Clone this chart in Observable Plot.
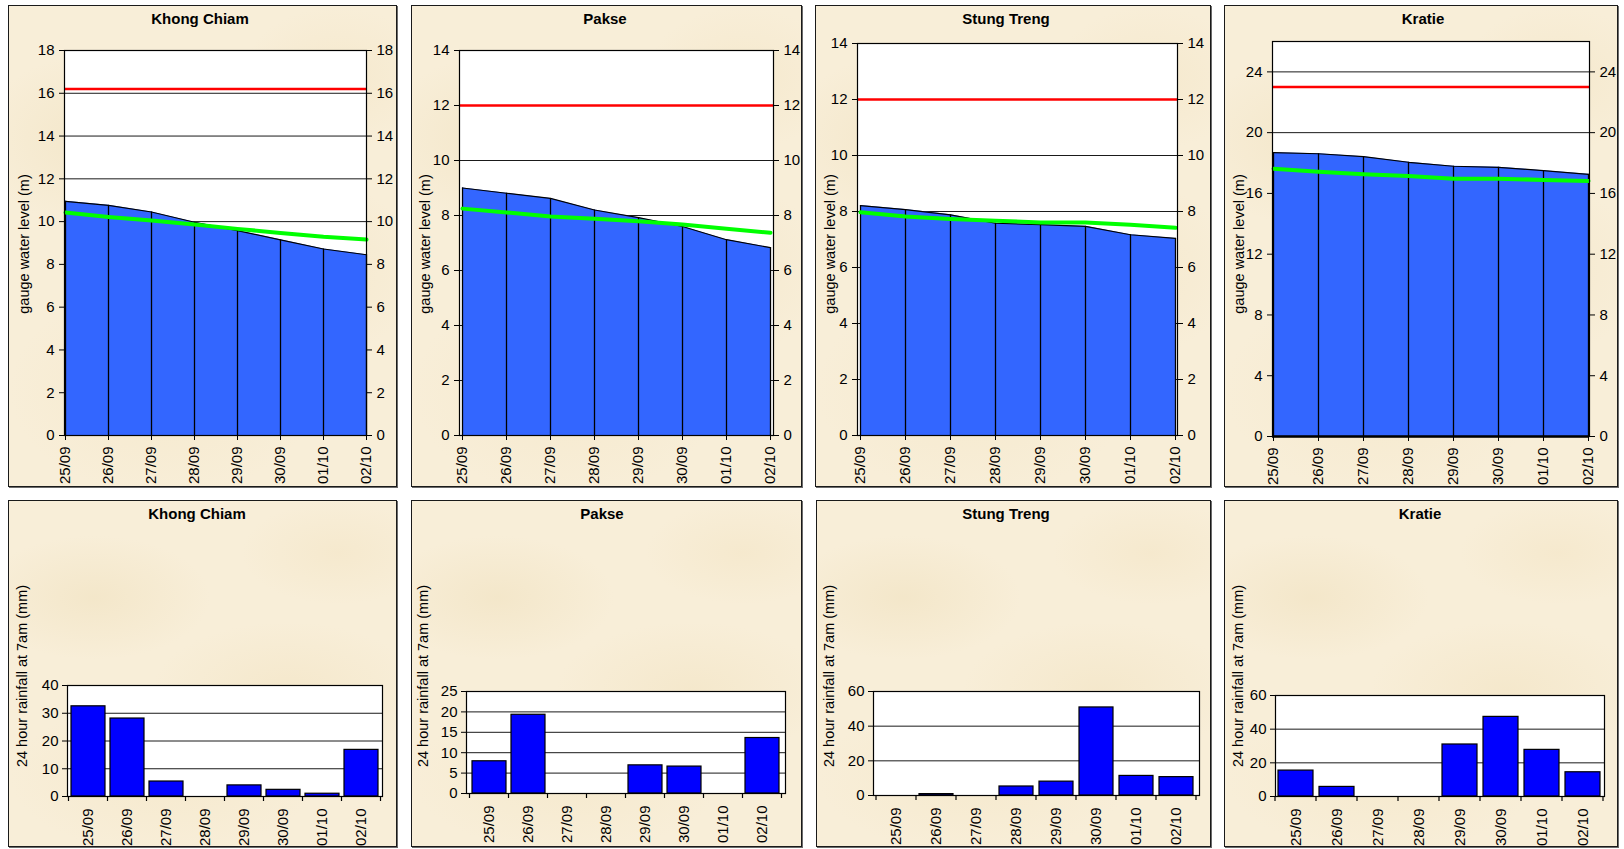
<!DOCTYPE html>
<html>
<head>
<meta charset="utf-8">
<script src="https://cdn.jsdelivr.net/npm/d3@7"></script>
<script src="https://cdn.jsdelivr.net/npm/@observablehq/plot@0.6"></script>
<style>
  html, body { margin: 0; padding: 0; background: #ffffff; }
  #root { position: relative; width: 1624px; height: 849px; overflow: hidden; font-family: "Liberation Sans", Arial, sans-serif; }
  .panel {
    position: absolute; box-sizing: border-box; border: 1px solid #1a1a1a;
    box-shadow: 1px 1px 0 #6b6b6b;
    background-color: #f8eed8;
    background-image:
      radial-gradient(ellipse 30% 18% at 22% 28%, rgba(232,212,165,0.28), rgba(232,212,165,0) 100%),
      radial-gradient(ellipse 35% 20% at 72% 55%, rgba(236,216,172,0.28), rgba(236,216,172,0) 100%),
      radial-gradient(ellipse 40% 22% at 40% 80%, rgba(240,222,180,0.28), rgba(240,222,180,0) 100%),
      radial-gradient(ellipse 25% 15% at 85% 15%, rgba(238,218,175,0.25), rgba(238,218,175,0) 100%);
  }
  .chart { position: absolute; }
  .title { position: absolute; transform: translate(-50%, -50%); font-weight: bold; font-size: 15px; color: #000; white-space: nowrap; }
  .ylab { position: absolute; transform: translate(-50%, -50%) rotate(-90deg); font-size: 14.5px; color: #000; white-space: nowrap; }
</style>
</head>
<body>
<div id="root"></div>
<script>
// ---------- DATA ----------
const dates = ["25/09", "26/09", "27/09", "28/09", "29/09", "30/09", "01/10", "02/10"];
const stations = ["Khong Chiam", "Pakse", "Stung Treng", "Kratie"];

// observed gauge water level (m)
const levelKhongChiam = [10.95, 10.76, 10.45, 9.97, 9.58, 9.15, 8.72, 8.45];
const levelPakse      = [9.00, 8.81, 8.62, 8.20, 7.92, 7.60, 7.12, 6.83];
const levelStungTreng = [8.21, 8.07, 7.88, 7.58, 7.53, 7.47, 7.17, 7.04];
const levelKratie     = [18.68, 18.61, 18.42, 18.05, 17.79, 17.72, 17.50, 17.26];

// green reference line (m)
const avgKhongChiam = [10.43, 10.22, 10.05, 9.86, 9.66, 9.47, 9.29, 9.16];
const avgPakse      = [8.25, 8.11, 7.96, 7.88, 7.79, 7.67, 7.52, 7.37];
const avgStungTreng = [7.97, 7.82, 7.73, 7.67, 7.61, 7.61, 7.53, 7.42];
const avgKratie     = [17.63, 17.43, 17.26, 17.15, 16.97, 16.97, 16.89, 16.82];

// red flood level (m)
const floodLevels = [16.2, 12.0, 12.0, 23.0];

// 24 hour rainfall at 7am (mm)
const rainKhongChiam = [32.5, 28.1, 5.4, 0, 4.0, 2.4, 1.0, 16.8];
const rainPakse      = [7.9, 19.3, 0, 0, 6.9, 6.6, 0, 13.6];
const rainStungTreng = [0, 0.8, 0, 5.2, 8.0, 50.8, 11.3, 10.6];
const rainKratie     = [15.4, 5.7, 0, 0, 30.9, 47.3, 27.7, 14.4];

// axis ticks
const levelTicksKhongChiam = [0, 2, 4, 6, 8, 10, 12, 14, 16, 18];
const levelTicksPakse      = [0, 2, 4, 6, 8, 10, 12, 14];
const levelTicksStungTreng = [0, 2, 4, 6, 8, 10, 12, 14];
const levelTicksKratie     = [0, 4, 8, 12, 16, 20, 24];
const levelMax = [18, 14, 14, 26];

const rainTicksKhongChiam = [0, 10, 20, 30, 40];
const rainTicksPakse      = [0, 5, 10, 15, 20, 25];
const rainTicksStungTreng = [0, 20, 40, 60];
const rainTicksKratie     = [0, 20, 40, 60];

const levelLabel = "gauge water level (m)";
const rainLabel = "24 hour rainfall at 7am (mm)";

// ---------- LAYOUT (page pixels) ----------
const topLayout = [
  {panel: [8, 5, 397, 487],    plot: [64, 50, 366, 435],   titleX: 200,  labelX: 24,   baseW: 1.2},
  {panel: [411, 5, 802, 487],  plot: [459, 50, 773, 435],  titleX: 605,  labelX: 425,  baseW: 1.2},
  {panel: [815, 5, 1211, 487], plot: [857, 43, 1177, 435], titleX: 1006, labelX: 830,  baseW: 1.2},
  {panel: [1224, 5, 1618, 487],plot: [1272, 41, 1589, 436],titleX: 1423, labelX: 1239, baseW: 2.5}
];
const bottomLayout = [
  {panel: [8, 500, 397, 847],    plot: [67, 685, 382, 796],   titleX: 197,  labelX: 22},
  {panel: [411, 500, 802, 847],  plot: [466, 691, 785, 793],  titleX: 602,  labelX: 423},
  {panel: [816, 500, 1211, 847], plot: [873, 691, 1199, 795], titleX: 1006, labelX: 829},
  {panel: [1224, 500, 1618, 847],plot: [1275, 695, 1604, 796],titleX: 1420, labelX: 1238}
];
const topTitleY = 18, topLabelY = 244;
const bottomTitleY = 513, bottomLabelY = 676;

const levels = [levelKhongChiam, levelPakse, levelStungTreng, levelKratie];
const avgs = [avgKhongChiam, avgPakse, avgStungTreng, avgKratie];
const levelTicks = [levelTicksKhongChiam, levelTicksPakse, levelTicksStungTreng, levelTicksKratie];
const rains = [rainKhongChiam, rainPakse, rainStungTreng, rainKratie];
const rainTicks = [rainTicksKhongChiam, rainTicksPakse, rainTicksStungTreng, rainTicksKratie];

const root = document.getElementById("root");
const FONT = "'Liberation Sans', Arial, sans-serif";

function addDiv(cls, left, top, text, w, h) {
  const d = document.createElement("div");
  d.className = cls;
  d.style.left = left + "px";
  d.style.top = top + "px";
  if (w != null) d.style.width = w + "px";
  if (h != null) d.style.height = h + "px";
  if (text != null) d.textContent = text;
  root.appendChild(d);
  return d;
}

function place(svg, panel) {
  const wrap = document.createElement("div");
  wrap.className = "chart";
  wrap.style.left = panel[0] + "px";
  wrap.style.top = panel[1] + "px";
  wrap.appendChild(svg);
  root.appendChild(wrap);
}

// ---------- TOP ROW: water level ----------
stations.forEach((name, i) => {
  const L = topLayout[i];
  const [pl, pt, pr, pb] = L.panel;
  const [ql, qt, qr, qb] = L.plot;
  addDiv("panel", pl, pt, null, pr - pl, pb - pt);
  const rows = dates.map((d, k) => ({date: d, level: levels[i][k], avg: avgs[i][k]}));
  const ticks = levelTicks[i];
  const svg = Plot.plot({
    width: pr - pl,
    height: pb - pt,
    marginLeft: ql - pl,
    marginRight: pr - qr,
    marginTop: qt - pt,
    marginBottom: pb - qb,
    style: {background: "transparent", fontFamily: FONT, fontSize: "15px", color: "#000", overflow: "visible"},
    x: {type: "point", domain: dates, padding: 0},
    y: {domain: [0, levelMax[i]]},
    marks: [
      Plot.frame({fill: "#ffffff", stroke: null}),
      Plot.gridY({ticks, stroke: "#1a1a1a", strokeOpacity: 1, strokeWidth: 1}),
      Plot.areaY(rows, {x: "date", y: "level", fill: "#3366ff", curve: "linear"}),
      Plot.lineY(rows, {x: "date", y: "level", stroke: "#000", strokeWidth: 1.2}),
      Plot.ruleX(rows, {x: "date", y1: 0, y2: "level", stroke: "#000", strokeWidth: 1.3}),
      Plot.lineY(rows, {x: "date", y: "avg", stroke: "#00ff00", strokeWidth: 4}),
      Plot.ruleY([floodLevels[i]], {stroke: "#ff0000", strokeWidth: 2.5}),
      Plot.frame({stroke: "#000", strokeWidth: 1.2}),
      Plot.ruleY([0], {stroke: "#000", strokeWidth: L.baseW}),
      Plot.axisY({anchor: "left", ticks, tickSize: 5, tickPadding: 5, label: null, fontSize: 15}),
      Plot.axisY({anchor: "right", ticks, tickSize: 5, tickPadding: 5, label: null, fontSize: 15}),
      Plot.axisX({ticks: dates, tickRotate: -90, tickSize: 5, tickPadding: 6, label: null, fontSize: 15})
    ]
  });
  place(svg, L.panel);
  addDiv("title", L.titleX, topTitleY, name);
  addDiv("ylab", L.labelX, topLabelY, levelLabel);
});

// ---------- BOTTOM ROW: rainfall ----------
function bandEdgeTicks(index, scales, values, dims) {
  const g = d3.create("svg:g").attr("stroke", "#000").attr("stroke-width", 1.2);
  const x = scales.x;
  const n = x.domain().length;
  const r = x.range();
  const step = x.step ? x.step() : (r[1] - r[0]) / n;
  const start = x.step ? x(x.domain()[0]) - x.step() * (1 - x.bandwidth() / x.step()) / 2 : r[0];
  const y0 = dims.height - dims.marginBottom;
  for (let k = 0; k <= n; k++) {
    const px = start + k * step;
    g.append("line").attr("x1", px).attr("x2", px).attr("y1", y0).attr("y2", y0 + 5);
  }
  return g.node();
}

stations.forEach((name, i) => {
  const L = bottomLayout[i];
  const [pl, pt, pr, pb] = L.panel;
  const [ql, qt, qr, qb] = L.plot;
  addDiv("panel", pl, pt, null, pr - pl, pb - pt);
  const rows = dates.map((d, k) => ({date: d, rain: rains[i][k]}));
  const ticks = rainTicks[i];
  const svg = Plot.plot({
    width: pr - pl,
    height: pb - pt,
    marginLeft: ql - pl,
    marginRight: pr - qr,
    marginTop: qt - pt,
    marginBottom: pb - qb,
    style: {background: "transparent", fontFamily: FONT, fontSize: "15px", color: "#000", overflow: "visible"},
    x: {type: "band", domain: dates, paddingInner: 0.14, paddingOuter: 0.07},
    y: {domain: [0, ticks[ticks.length - 1]]},
    marks: [
      Plot.frame({fill: "#ffffff", stroke: null}),
      Plot.gridY({ticks, stroke: "#1a1a1a", strokeOpacity: 1, strokeWidth: 1}),
      Plot.barY(rows.filter(r => r.rain > 0), {x: "date", y: "rain", fill: "#0000ff", stroke: "#000", strokeWidth: 1.2}),
      Plot.frame({stroke: "#000", strokeWidth: 1.2}),
      Plot.axisY({anchor: "left", ticks, tickSize: 5, tickPadding: 4, label: null, fontSize: 15}),
      Plot.axisX({tickRotate: -90, tickSize: 0, tickPadding: 12, label: null, fontSize: 15}),
      bandEdgeTicks
    ]
  });
  place(svg, L.panel);
  addDiv("title", L.titleX, bottomTitleY, name);
  addDiv("ylab", L.labelX, bottomLabelY, rainLabel);
});
</script>
</body>
</html>
